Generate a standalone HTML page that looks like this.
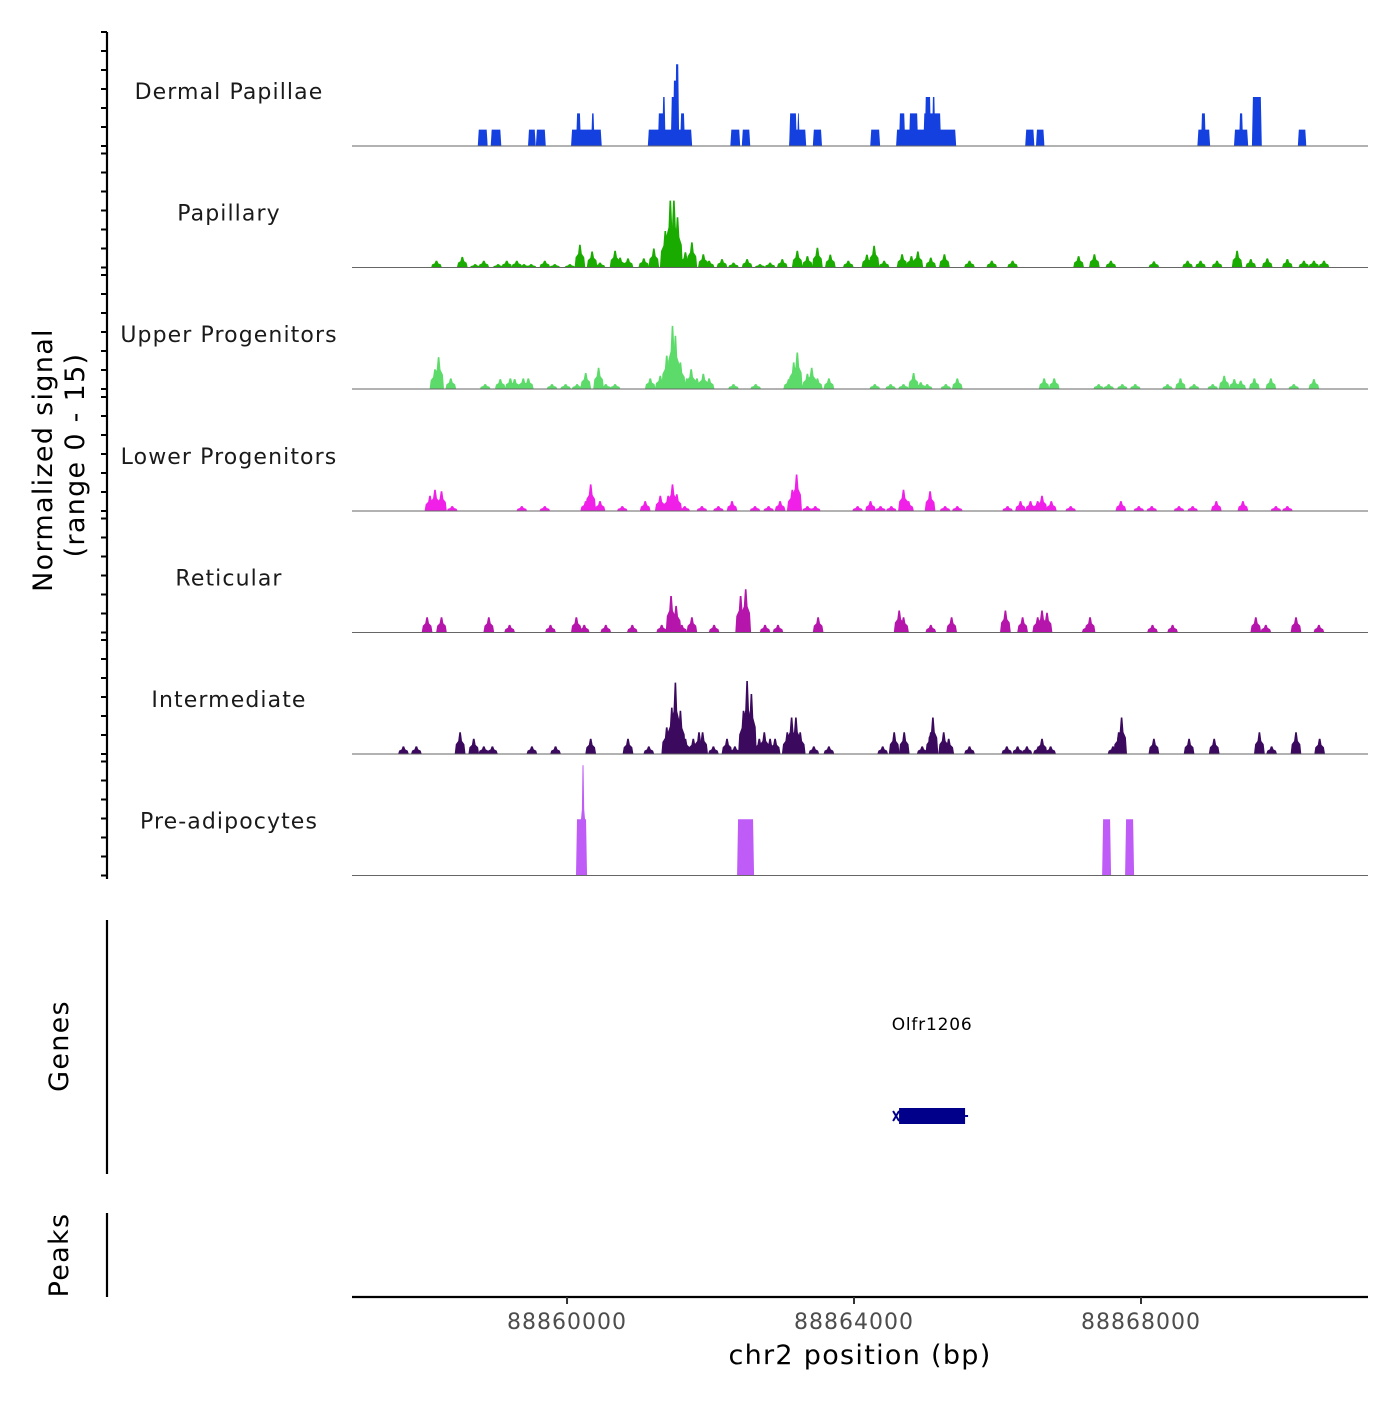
<!DOCTYPE html>
<html><head><meta charset="utf-8"><style>
body{margin:0;background:#fff;}
svg{font-family:"DejaVu Sans","Liberation Sans",sans-serif;}
</style></head><body>
<svg id="chart" width="1400" height="1400" viewBox="0 0 1400 1400" xmlns="http://www.w3.org/2000/svg">
<g id="tracks"></g>
<g id="axes"></g>
<text transform="translate(52,460) rotate(-90)" text-anchor="middle" font-size="27" letter-spacing="1.3" fill="#000">Normalized signal</text>
<text transform="translate(84,455) rotate(-90)" text-anchor="middle" font-size="27" letter-spacing="1.3" fill="#000">(range 0 - 15)</text>
<line x1="107" y1="920" x2="107" y2="1174" stroke="#000" stroke-width="2.2"/>
<text transform="translate(68,1046) rotate(-90)" text-anchor="middle" font-size="27" letter-spacing="1.3">Genes</text>
<line x1="107" y1="1213" x2="107" y2="1297" stroke="#000" stroke-width="2.2"/>
<text transform="translate(68,1255) rotate(-90)" text-anchor="middle" font-size="27" letter-spacing="1.3">Peaks</text>
<g id="genes"></g>
<line x1="352" y1="1297" x2="1368" y2="1297" stroke="#000" stroke-width="2.2"/>
<g id="xticks"></g>
<text x="860" y="1364" text-anchor="middle" font-size="27" letter-spacing="1.3">chr2 position (bp)</text>
</svg>
<script>
const NS="http://www.w3.org/2000/svg";
const trackNames=["Dermal Papillae","Papillary","Upper Progenitors","Lower Progenitors","Reticular","Intermediate","Pre-adipocytes"];
const trackColors=["#1540e0","#1aab00","#5cdb6a","#f020e8","#b515aa","#3b0a5e","#bf5cf7"];
const xTicks=[88860000,88864000,88868000];
const xTickLabels=["88860000","88864000","88868000"];
const dermalBlocks=[[88858.77,88858.88,2.15],[88858.95,88859.07,2.15],[88859.47,88859.55,2.15],[88859.58,88859.69,2.15],
[88860.07,88860.47,2.15],[88860.14,88860.18,4.3],[88860.35,88860.37,4.3],
[88861.14,88861.73,2.15],[88861.28,88861.35,4.3],[88861.34,88861.36,6.45],[88861.46,88861.53,6.45],[88861.49,88861.53,8.6],[88861.52,88861.55,10.75],[88861.59,88861.63,4.3],
[88862.29,88862.40,2.15],[88862.45,88862.54,2.15],[88863.11,88863.32,2.15],[88863.11,88863.19,4.3],[88863.22,88863.23,4.3],
[88863.44,88863.54,2.15],[88864.24,88864.35,2.15],[88864.60,88865.41,2.15],[88864.64,88864.70,4.3],[88864.78,88864.88,4.3],[88864.98,88865.20,4.3],[88865.00,88865.06,6.45],[88865.10,88865.12,6.45],
[88866.40,88866.50,2.15],[88866.55,88866.64,2.15],[88868.80,88868.95,2.15],[88868.85,88868.89,4.3],[88869.31,88869.48,2.15],[88869.38,88869.41,4.3],[88869.56,88869.67,6.45],[88870.20,88870.29,2.15]];
const papillaryPeaks=[[88858.18,0.9],[88858.54,1.4],[88858.72,0.45],[88858.84,0.9],[88859.04,0.45],[88859.16,0.9],[88859.30,0.9],[88859.40,0.45],[88859.50,0.45],[88859.69,0.9],[88859.83,0.45],[88860.04,0.45],[88860.18,3.0],[88860.35,2.1],[88860.46,0.65],[88860.67,2.2],[88860.74,1.3],[88860.85,1.2],[88861.07,1.2],[88861.21,2.5],[88861.37,4.8],[88861.44,8.8],[88861.49,8.8],[88861.54,6.6],[88861.65,2.0],[88861.74,3.3],[88861.90,1.75],[88861.98,0.9],[88862.16,1.1],[88862.32,0.65],[88862.51,1.1],[88862.69,0.45],[88862.83,0.65],[88863.00,1.1],[88863.21,2.2],[88863.35,1.5],[88863.49,2.6],[88863.67,1.7],[88863.92,0.9],[88864.18,1.7],[88864.28,2.85],[88864.42,0.9],[88864.67,1.75],[88864.80,1.5],[88864.89,2.1],[88865.07,1.3],[88865.26,1.75],[88865.61,0.9],[88865.92,0.9],[88866.21,0.9],[88867.13,1.5],[88867.35,1.75],[88867.58,0.9],[88868.18,0.8],[88868.65,0.9],[88868.83,0.9],[88869.06,0.9],[88869.34,2.2],[88869.53,1.1],[88869.76,1.2],[88870.04,1.1],[88870.27,0.9],[88870.41,0.9],[88870.55,0.9]];
const upperPeaks=[[88858.16,2.6],[88858.21,4.2],[88858.38,1.4],[88858.86,0.65],[88859.07,1.3],[88859.21,1.4],[88859.27,1.3],[88859.39,1.4],[88859.46,1.4],[88859.79,0.65],[88859.98,0.65],[88860.14,0.65],[88860.26,2.1],[88860.44,2.8],[88860.54,0.65],[88860.67,0.65],[88861.16,1.4],[88861.30,1.75],[88861.39,4.4],[88861.47,8.3],[88861.51,7.0],[88861.58,3.5],[88861.67,1.4],[88861.73,2.6],[88861.81,1.4],[88861.90,2.0],[88861.98,1.4],[88862.32,0.65],[88862.63,0.65],[88863.09,1.3],[88863.16,3.5],[88863.21,4.8],[88863.35,2.0],[88863.41,2.8],[88863.49,1.4],[88863.65,1.4],[88864.29,0.65],[88864.51,0.65],[88864.69,0.65],[88864.83,2.1],[88864.93,0.9],[88865.02,0.65],[88865.28,0.65],[88865.44,1.4],[88866.65,1.4],[88866.79,1.4],[88867.41,0.65],[88867.55,0.65],[88867.74,0.65],[88867.92,0.65],[88868.37,0.65],[88868.55,1.4],[88868.74,0.65],[88869.00,0.65],[88869.16,1.75],[88869.30,1.3],[88869.39,1.1],[88869.58,1.4],[88869.81,1.4],[88870.13,0.65],[88870.41,1.3]];
const lowerPeaks=[[88858.09,2.0],[88858.16,2.8],[88858.25,2.6],[88858.40,0.65],[88859.37,0.65],[88859.69,0.65],[88860.26,1.3],[88860.33,3.5],[88860.46,1.3],[88860.77,0.65],[88861.09,1.3],[88861.30,2.0],[88861.41,2.0],[88861.47,3.5],[88861.53,2.2],[88861.64,0.65],[88861.88,0.65],[88862.11,0.65],[88862.30,1.3],[88862.62,0.65],[88862.81,0.65],[88862.97,1.3],[88863.14,2.8],[88863.20,4.8],[88863.35,0.65],[88863.46,0.65],[88864.05,0.65],[88864.23,1.3],[88864.37,0.65],[88864.52,0.65],[88864.69,2.8],[88864.76,1.3],[88865.06,2.6],[88865.27,0.65],[88865.44,0.65],[88866.14,0.65],[88866.32,1.3],[88866.46,1.3],[88866.56,1.3],[88866.62,2.0],[88866.75,1.3],[88867.02,0.65],[88867.72,1.3],[88867.97,0.65],[88868.15,0.65],[88868.53,0.65],[88868.72,0.65],[88869.05,1.3],[88869.42,1.3],[88869.88,0.65],[88870.04,0.65]];
const reticularPeaks=[[88858.05,2.0],[88858.25,2.0],[88858.91,2.0],[88859.20,1.0],[88859.77,1.0],[88860.13,2.0],[88860.24,1.0],[88860.54,1.0],[88860.91,1.0],[88861.32,1.0],[88861.45,4.8],[88861.52,3.5],[88861.60,1.0],[88861.74,2.0],[88862.05,1.0],[88862.42,4.8],[88862.49,5.7],[88862.76,1.0],[88862.94,1.0],[88863.50,2.0],[88864.63,2.9],[88864.69,2.0],[88865.07,1.0],[88865.36,2.0],[88866.11,2.9],[88866.35,2.0],[88866.56,2.0],[88866.62,2.9],[88866.69,2.6],[88867.25,1.0],[88867.29,2.0],[88868.16,1.0],[88868.44,1.0],[88869.60,2.0],[88869.74,1.0],[88870.16,2.0],[88870.48,1.0]];
const intermediatePeaks=[[88857.72,1.0],[88857.90,1.0],[88858.51,2.85],[88858.70,2.0],[88858.84,1.0],[88858.96,1.0],[88859.51,1.0],[88859.84,1.0],[88860.33,2.0],[88860.85,2.0],[88861.14,1.0],[88861.39,3.5],[88861.46,6.1],[88861.51,9.4],[88861.58,5.7],[88861.65,2.0],[88861.76,2.0],[88861.84,2.85],[88861.89,2.85],[88862.04,1.0],[88862.23,2.0],[88862.34,1.0],[88862.46,5.7],[88862.51,9.6],[88862.57,7.9],[88862.68,2.0],[88862.75,2.85],[88862.83,2.0],[88862.90,2.0],[88863.07,2.85],[88863.13,4.8],[88863.19,4.8],[88863.25,2.85],[88863.44,1.0],[88863.65,1.0],[88864.40,1.0],[88864.56,2.85],[88864.70,2.85],[88864.95,1.0],[88865.07,2.85],[88865.10,4.8],[88865.25,2.85],[88865.32,2.0],[88865.61,1.0],[88866.13,1.0],[88866.28,1.0],[88866.41,1.0],[88866.57,1.0],[88866.62,2.0],[88866.74,1.0],[88867.61,1.0],[88867.69,2.85],[88867.73,4.8],[88868.18,2.0],[88868.67,2.0],[88869.02,2.0],[88869.65,2.85],[88869.82,1.0],[88870.16,2.85],[88870.49,2.0]];
const preadipoBlocks=[[88860.139,88860.181,7.4],[88860.181,88860.265,7.4],[88862.384,88862.593,7.4],[88867.472,88867.569,7.4],[88867.792,88867.890,7.4]];
const preadipoPeaks=[[88860.223,14.5]];
const geneName="Olfr1206";
const geneStart=88864628, geneEnd=88865548;

const xMin=88857003, xMax=88871164, pxL=352, pxR=1368;
function xs(bp){return pxL+(bp-xMin)/(xMax-xMin)*(pxR-pxL);}
const baselines=[146,267.5,389,511,632.5,754,875.5];
const pxPerUnit=114/15;
function ys(i,v){return baselines[i]-v*pxPerUnit;}

const tg=document.getElementById('tracks');
const ag=document.getElementById('axes');
function mk(tag,attrs,parent){const e=document.createElementNS(NS,tag);for(const k in attrs)e.setAttribute(k,attrs[k]);parent.appendChild(e);return e;}

function drawBlocks(i,blocks,color){
  blocks.forEach(b=>{
    const x1=xs(b[0]*1000),x2=xs(b[1]*1000),y=ys(i,b[2]);
    const p=mk('polygon',{points:`${x1-1},${baselines[i]} ${x1},${y} ${x2},${y} ${x2+1},${baselines[i]}`,fill:color},tg);
    
    
  });
}
function drawPeaks(i,peaks,color,hw){
  peaks.forEach(pk=>{
    const c=pk[0]*1000,y=ys(i,pk[1]),b=baselines[i],h=b-y;
    const pts=[[xs(c-hw),b],[xs(c-hw*0.8),b-h*0.45],[xs(c-hw*0.35),b-h*0.6],[xs(c-hw*0.15),y],[xs(c+hw*0.15),y],[xs(c+hw*0.35),b-h*0.6],[xs(c+hw*0.8),b-h*0.45],[xs(c+hw),b]];
    const p=mk('polygon',{points:pts.map(q=>q[0].toFixed(1)+','+q[1].toFixed(1)).join(' '),fill:color},tg);
    
    
  });
}
const peakSets=[null,papillaryPeaks,upperPeaks,lowerPeaks,reticularPeaks,intermediatePeaks,preadipoPeaks];
trackNames.forEach((n,i)=>{
  if(i===0) drawBlocks(0,dermalBlocks,trackColors[0]);
  if(i===6) drawBlocks(6,preadipoBlocks,trackColors[6]);
  if(peakSets[i]) drawPeaks(i,peakSets[i],trackColors[i],i===6?45:75);
  const l=mk('line',{x1:pxL,x2:pxR,y1:baselines[i],y2:baselines[i],stroke:'#666','stroke-width':1},tg);
  
  
  const t=mk('text',{x:229,y:baselines[i]-47,'text-anchor':'middle','font-size':22,'letter-spacing':1.1,fill:'#1a1a1a'},tg);
  t.textContent=n;
  
  
  for(let k=0;k<=6;k++){
    const yy=baselines[i]-k*19;
    const tk=mk('line',{x1:101,x2:107,y1:yy,y2:yy,stroke:'#000','stroke-width':2},ag);
    
    
  }
});
const ya=mk('line',{x1:107,x2:107,y1:32,y2:879,stroke:'#000','stroke-width':2.2},ag);



const xg=document.getElementById('xticks');
xTicks.forEach((v,j)=>{
  const x=xs(v);
  const l=mk('line',{x1:x,x2:x,y1:1297,y2:1304,stroke:'#333','stroke-width':2},xg);
  
  
  const t=mk('text',{x:x,y:1329,'text-anchor':'middle','font-size':22,'letter-spacing':1,fill:'#4d4d4d'},xg);
  t.textContent=xTickLabels[j];
  
  
});

const gg=document.getElementById('genes');
const gx1=xs(geneStart),gx2=xs(geneEnd);
const gl=mk('text',{x:(gx1+gx2)/2,y:1030,'text-anchor':'middle','font-size':17,'letter-spacing':0.8,fill:'#000'},gg);
gl.textContent=geneName;


const gr=mk('rect',{x:gx1,y:1108,width:gx2-gx1,height:16,fill:'#00008b'},gg);


const gs=mk('path',{d:`M${gx1-6},${1111} L${gx1},${1121} M${gx1-6},${1121} L${gx1},${1111} M${gx2},1116 L${gx2+3},1116`,stroke:'#00008b','stroke-width':2,fill:'none'},gg);


</script>
</body></html>
